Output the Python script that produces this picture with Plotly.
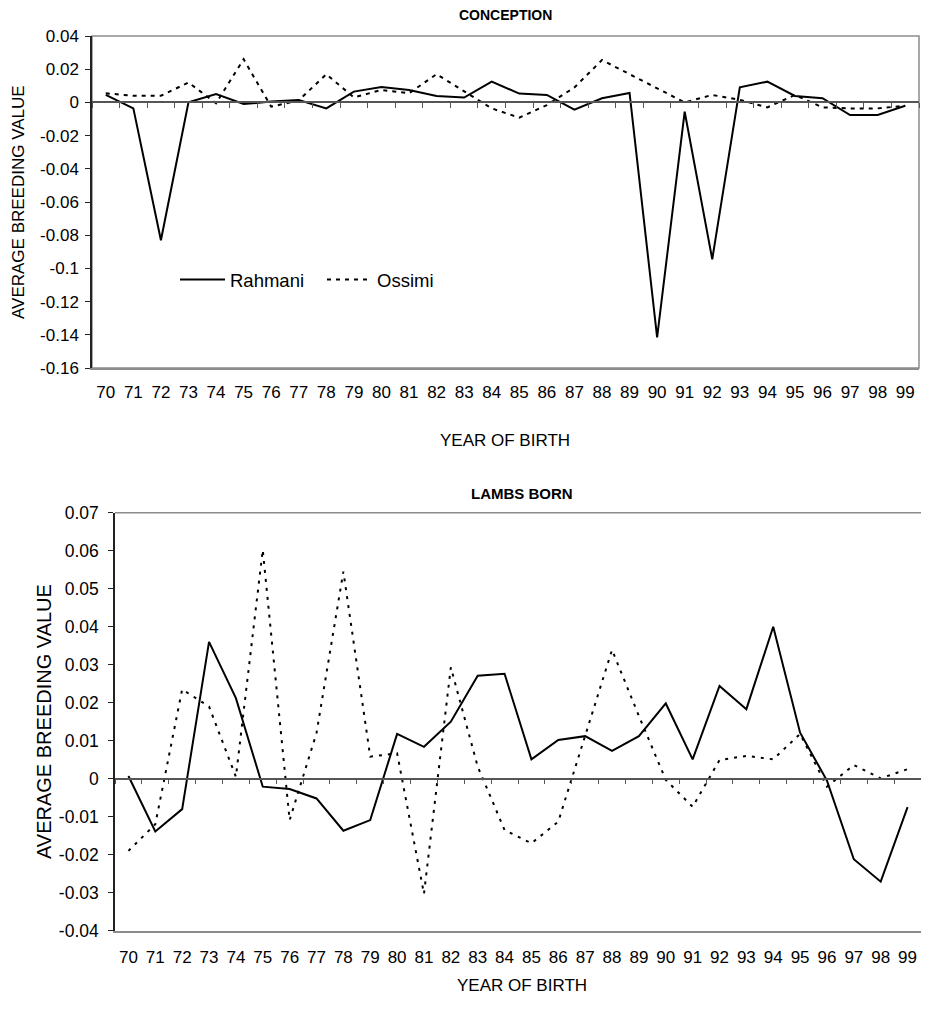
import plotly.graph_objects as go

# ---------------- data ----------------
years = ["70", "71", "72", "73", "74", "75", "76", "77", "78", "79",
         "80", "81", "82", "83", "84", "85", "86", "87", "88", "89",
         "90", "91", "92", "93", "94", "95", "96", "97", "98", "99"]

conc_rahmani = [0.0045, -0.0036, -0.083, 0.0, 0.005, -0.001, 0.0005, 0.0014, -0.0036, 0.0065,
                0.0093, 0.0075, 0.0039, 0.0029, 0.0125, 0.0053, 0.0045, -0.0044, 0.0025, 0.0057,
                -0.1415, -0.0056, -0.0945, 0.0091, 0.0125, 0.0039, 0.0025, -0.0076, -0.0076, -0.002]
conc_ossimi = [0.0055, 0.004, 0.004, 0.012, -0.0005, 0.026, -0.0026, 0.0012, 0.017, 0.003,
               0.0075, 0.0055, 0.017, 0.0065, -0.0036, -0.0092, -0.0016, 0.009, 0.0255, 0.017,
               0.0085, 0.0, 0.0045, 0.0015, -0.003, 0.0045, -0.003, -0.0036, -0.0036, -0.002]

lambs_rahmani = [0.0007, -0.0139, -0.008, 0.036, 0.0212, -0.0021, -0.0027, -0.0052, -0.0137, -0.0109,
                 0.0118, 0.0084, 0.015, 0.0271, 0.0276, 0.0051, 0.0102, 0.0112, 0.0073, 0.0112,
                 0.0198, 0.0051, 0.0244, 0.0183, 0.04, 0.0121, -0.0005, -0.0212, -0.0271, -0.0075]
lambs_ossimi = [-0.019, -0.012, 0.0235, 0.019, 0.0005, 0.0602, -0.0109, 0.012, 0.0545, 0.0058,
                0.0067, -0.0303, 0.0293, 0.0032, -0.0135, -0.017, -0.0113, 0.011, 0.0339, 0.0165,
                -0.0003, -0.0074, 0.0049, 0.006, 0.0051, 0.0118, -0.0021, 0.0036, 0.0001, 0.0025]

conc_ytick_vals = [0.04, 0.02, 0, -0.02, -0.04, -0.06, -0.08, -0.1, -0.12, -0.14, -0.16]
conc_ytick_text = ["0.04", "0.02", "0", "-0.02", "-0.04", "-0.06", "-0.08", "-0.1", "-0.12", "-0.14", "-0.16"]
lambs_ytick_vals = [0.07, 0.06, 0.05, 0.04, 0.03, 0.02, 0.01, 0, -0.01, -0.02, -0.03, -0.04]
lambs_ytick_text = ["0.07", "0.06", "0.05", "0.04", "0.03", "0.02", "0.01", "0", "-0.01", "-0.02", "-0.03", "-0.04"]

conc_range = [-0.16, 0.04]
lambs_range = [-0.04, 0.07]

# ---------------- layout geometry ----------------
# The page body has an 8px margin; size the figure so that the page never scrolls.
OFF = 8
W, H = 930 - OFF, 1014 - 2 * OFF
FONT = "Liberation Sans, Arial, sans-serif"

def px(x):
    return (x - OFF) / W

def py(y):
    return 1 - (y - OFF) / H

top_dom_x = [px(92), px(919)]
top_dom_y = [py(368), py(36)]
bot_dom_x = [px(115), px(921)]
bot_dom_y = [py(930.7), py(512.7)]

def zero_pos(dom, rng):
    return dom[0] + (0 - rng[0]) / (rng[1] - rng[0]) * (dom[1] - dom[0])

solid = dict(color="black", width=2)
dashed = dict(color="black", width=2, dash="4px,5px")
dotted = dict(color="black", width=2, dash="3px,6px")

fig = go.Figure()
fig.add_trace(go.Scatter(x=years, y=conc_rahmani, mode="lines", name="Rahmani",
                         line=solid, xaxis="x", yaxis="y"))
fig.add_trace(go.Scatter(x=years, y=conc_ossimi, mode="lines", name="Ossimi",
                         line=dashed, xaxis="x3", yaxis="y"))
fig.add_trace(go.Scatter(x=years, y=lambs_rahmani, mode="lines", name="Rahmani",
                         line=solid, xaxis="x2", yaxis="y2", showlegend=False))
fig.add_trace(go.Scatter(x=years, y=lambs_ossimi, mode="lines", name="Ossimi",
                         line=dotted, xaxis="x4", yaxis="y2", showlegend=False))

cat_range = [-0.5, len(years) - 0.5]

label_axis = dict(type="category", categoryorder="array", categoryarray=years,
                  range=cat_range, showgrid=False, zeroline=False,
                  showline=True, linecolor="#8c8c8c", linewidth=1.5,
                  ticks="", fixedrange=True, automargin=False)
tick_axis = dict(type="category", categoryorder="array", categoryarray=years,
                 range=cat_range, showgrid=False, zeroline=False,
                 showline=True, linecolor="#555555", linewidth=1.5,
                 ticks="outside", ticklen=5, tickwidth=1.2, tickcolor="#555555",
                 tickson="boundaries", showticklabels=False, anchor="free", side="bottom",
                 automargin=False)

fig.update_layout(
    width=W, height=H,
    margin=dict(l=0, r=0, t=0, b=0, autoexpand=False),
    paper_bgcolor="white", plot_bgcolor="white",
    font=dict(family=FONT, color="black", size=17),
    showlegend=True,
    legend=dict(orientation="h", x=px(175), y=py(280), xanchor="left", yanchor="middle",
                bgcolor="rgba(0,0,0,0)", font=dict(size=18.5, family=FONT), itemwidth=45,
                entrywidth=87, tracegroupgap=0),
    xaxis=dict(label_axis, domain=top_dom_x, anchor="y",
               tickfont=dict(size=17), ticklabelstandoff=8),
    xaxis3=dict(tick_axis, domain=top_dom_x, overlaying="x",
                position=zero_pos(top_dom_y, conc_range)),
    yaxis=dict(domain=top_dom_y, anchor="x", range=conc_range,
               tickvals=conc_ytick_vals, ticktext=conc_ytick_text,
               showgrid=False, zeroline=False, showline=True, linecolor="#222222", linewidth=1.5,
               ticks="outside", ticklen=5, tickcolor="#222222", tickfont=dict(size=17),
               ticklabelstandoff=3, fixedrange=True, automargin=False),
    xaxis2=dict(label_axis, domain=bot_dom_x, anchor="y2",
                tickfont=dict(size=17), ticklabelstandoff=10),
    xaxis4=dict(tick_axis, domain=bot_dom_x, overlaying="x2",
                position=zero_pos(bot_dom_y, lambs_range)),
    yaxis2=dict(domain=bot_dom_y, anchor="x2", range=lambs_range,
                tickvals=lambs_ytick_vals, ticktext=lambs_ytick_text,
                showgrid=False, zeroline=False, showline=True, linecolor="#222222", linewidth=1.5,
                ticks="outside", ticklen=5, tickcolor="#222222", tickfont=dict(size=17.5),
                ticklabelstandoff=6, fixedrange=True, automargin=False),
)

# plot-area borders (gray frame; the lower chart has no right border in view)
fig.add_shape(type="rect", xref="x domain", yref="y domain", x0=0, x1=1, y0=0, y1=1,
              line=dict(color="#8c8c8c", width=1.5), layer="below")
fig.add_shape(type="line", xref="x2 domain", yref="y2 domain", x0=0, x1=1, y0=1, y1=1,
              line=dict(color="#8c8c8c", width=1.5), layer="below")

def ann(text, x, y, size, bold=False, angle=0):
    fig.add_annotation(text=f"<b>{text}</b>" if bold else text,
                       x=px(x), y=py(y), xref="paper", yref="paper",
                       xanchor="center", yanchor="middle", showarrow=False,
                       textangle=angle, font=dict(family=FONT, size=size, color="black"))

ann("CONCEPTION", 505, 15, 14, bold=True)
ann("AVERAGE BREEDING VALUE", 19, 202, 17, angle=-90)
ann("YEAR OF BIRTH", 505, 440, 17)

ann("LAMBS BORN", 522, 494, 15, bold=True)
ann("AVERAGE BREEDING VALUE", 44, 722, 20, angle=-90)
ann("YEAR OF BIRTH", 522, 985, 17)

fig.write_html("out.html")
